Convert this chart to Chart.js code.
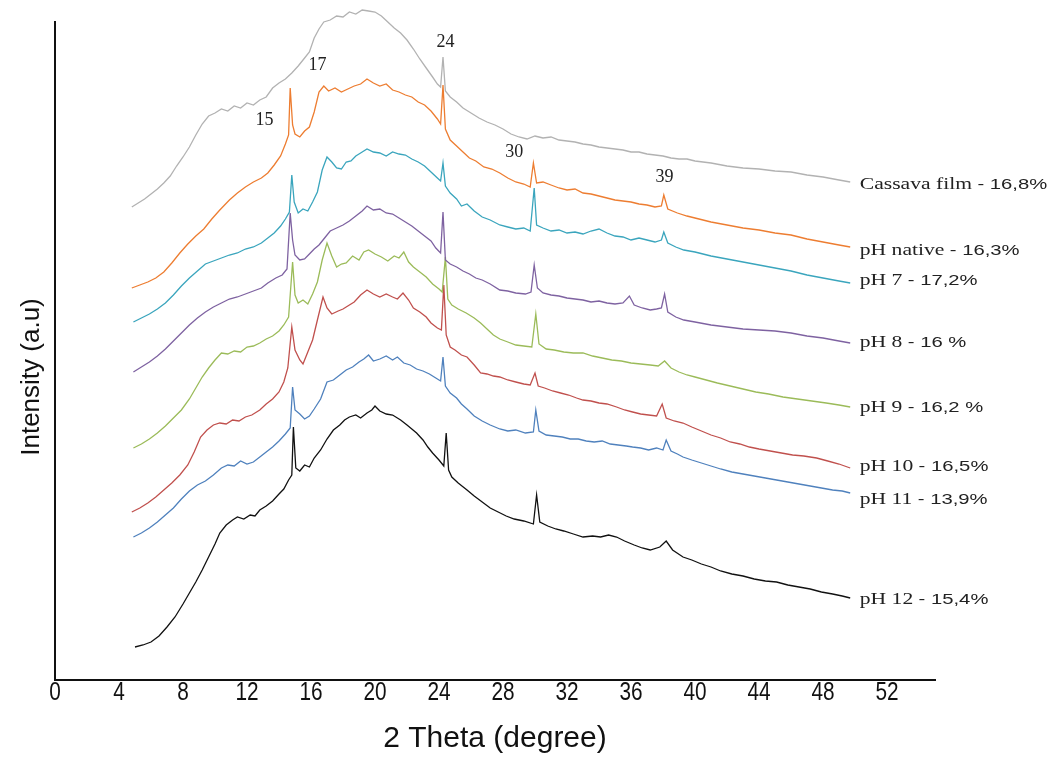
<!DOCTYPE html>
<html>
<head>
<meta charset="utf-8">
<title>XRD patterns</title>
<script src="https://cdn.jsdelivr.net/npm/chart.js@4.4.1/dist/chart.umd.min.js"></script>
<style>
  html, body { margin: 0; padding: 0; background: #fff; }
  #wrap { width: 1056px; height: 757px; }
</style>
</head>
<body>
<div id="wrap"><canvas id="xrd" width="1056" height="757"></canvas></div>
<script>
// 2 theta (deg) / intensity (arbitrary units, stacked offsets)
const cassavaFilm = [[4.8,473],[5.2,477],[5.6,481],[6.0,486],[6.4,491],[6.8,497],[7.2,504],[7.6,514],[8.0,523],[8.4,533],[8.8,545],[9.2,556],[9.6,564],[10.0,567],[10.4,571],[10.8,569],[11.2,574],[11.6,572],[12.0,577],[12.4,575],[12.8,580],[13.2,583],[13.6,592],[14.0,597],[14.4,601],[14.8,607],[15.2,614],[15.6,622],[15.9,628],[16.2,642],[16.5,651],[16.8,658],[17.2,660],[17.6,664],[18.0,663],[18.4,668],[18.8,666],[19.2,670],[19.6,669],[20.0,668],[20.4,664],[20.8,658],[21.2,652],[21.6,647],[22.0,640],[22.4,631],[22.8,621],[23.2,612],[23.6,603],[23.9,596],[24.1,593],[24.25,623],[24.4,589],[24.7,583],[25.1,578],[25.5,572],[26.0,567],[26.5,562],[27.0,558],[27.5,555],[28.0,551],[28.5,546],[29.0,543],[29.5,541],[30.0,544],[30.5,542],[31.0,543],[31.5,540],[32.0,539],[32.5,538],[33.0,536],[33.5,535],[34.0,533],[34.5,532],[35.0,531],[35.5,530],[36.0,528],[36.5,528],[37.0,526],[37.5,525],[38.0,524],[38.5,522],[39.0,521],[39.5,521],[40.0,519],[41.0,517],[42.0,514],[43.0,512],[44.0,511],[45.0,509],[46.0,508],[47.0,505],[48.0,503],[49.0,500],[49.7,498]];

const phNative = [[4.8,392],[5.3,395],[5.8,398],[6.3,402],[6.8,408],[7.3,417],[7.8,427],[8.3,436],[8.8,444],[9.3,451],[9.8,461],[10.3,470],[10.9,480],[11.4,487],[11.9,493],[12.4,498],[12.9,502],[13.3,507],[13.7,515],[14.1,524],[14.4,536],[14.6,545],[14.7,592],[14.85,555],[15.0,546],[15.3,543],[15.6,549],[15.9,553],[16.2,568],[16.5,588],[16.8,594],[17.1,589],[17.5,592],[17.9,588],[18.3,591],[18.7,594],[19.1,596],[19.5,601],[19.9,597],[20.3,594],[20.7,596],[21.1,590],[21.5,588],[21.9,585],[22.3,583],[22.7,578],[23.1,575],[23.5,569],[23.9,561],[24.1,556],[24.25,595],[24.4,551],[24.7,540],[25.1,534],[25.5,528],[25.9,522],[26.3,519],[26.8,513],[27.3,511],[27.8,507],[28.3,502],[28.8,498],[29.3,496],[29.7,493],[29.9,517],[30.1,497],[30.5,498],[31.0,495],[31.5,492],[32.0,490],[32.5,491],[33.0,487],[33.5,486],[34.0,484],[34.5,482],[35.0,480],[35.5,479],[36.0,478],[36.5,476],[37.0,475],[37.5,473],[37.9,474],[38.05,485],[38.3,471],[38.9,467],[39.5,464],[40.0,462],[41.0,458],[42.0,455],[43.0,452],[44.0,450],[45.0,447],[46.0,445],[47.0,441],[48.0,438],[49.0,435],[49.7,433]];

const ph7 = [[4.9,358],[5.4,362],[5.9,366],[6.4,371],[6.9,377],[7.4,385],[7.9,394],[8.4,402],[8.9,409],[9.4,416],[9.9,419],[10.4,422],[10.9,425],[11.4,427],[11.9,431],[12.4,433],[12.9,437],[13.3,442],[13.7,447],[14.1,454],[14.4,461],[14.65,468],[14.8,505],[14.95,478],[15.2,467],[15.5,471],[15.8,469],[16.1,478],[16.4,488],[16.7,510],[17.0,523],[17.3,518],[17.6,512],[17.9,511],[18.2,518],[18.5,519],[18.8,524],[19.1,527],[19.5,531],[19.9,528],[20.3,527],[20.7,524],[21.1,528],[21.5,526],[21.9,525],[22.3,521],[22.7,518],[23.1,514],[23.5,508],[23.9,502],[24.1,499],[24.25,517],[24.4,494],[24.7,487],[25.1,481],[25.4,474],[25.75,476],[26.2,469],[26.7,463],[27.2,460],[27.8,455],[28.3,453],[28.8,451],[29.3,452],[29.7,449],[29.95,492],[30.1,455],[30.5,452],[31.0,449],[31.5,450],[32.0,447],[32.5,448],[33.0,446],[33.5,449],[34.0,451],[34.5,447],[35.0,444],[35.5,443],[36.0,440],[36.5,442],[37.0,440],[37.5,438],[37.9,440],[38.05,448],[38.3,437],[38.8,433],[39.3,430],[40.0,428],[41.0,424],[42.0,421],[43.0,418],[44.0,415],[45.0,412],[46.0,409],[47.0,405],[48.0,402],[49.0,399],[49.7,397]];

const ph8 = [[4.9,308],[5.4,313],[5.9,318],[6.4,324],[6.9,331],[7.4,339],[7.9,347],[8.4,355],[8.9,362],[9.4,368],[9.9,373],[10.4,377],[10.9,381],[11.4,383],[11.9,386],[12.4,389],[12.9,392],[13.3,397],[13.8,402],[14.2,405],[14.5,411],[14.7,467],[14.85,440],[15.0,425],[15.3,420],[15.6,421],[15.9,426],[16.2,431],[16.5,435],[16.8,441],[17.2,449],[17.6,452],[18.0,455],[18.4,459],[18.8,464],[19.2,469],[19.5,474],[19.9,470],[20.3,471],[20.7,467],[21.1,466],[21.5,462],[21.9,458],[22.3,454],[22.7,449],[23.1,444],[23.5,439],[23.8,432],[24.1,427],[24.25,468],[24.4,420],[24.7,416],[25.1,413],[25.5,409],[25.9,406],[26.3,402],[26.7,400],[27.2,396],[27.8,390],[28.3,389],[28.8,387],[29.4,386],[29.75,388],[29.95,415],[30.15,392],[30.5,387],[31.0,385],[31.5,384],[32.0,382],[32.5,381],[33.0,380],[33.5,378],[34.0,379],[34.5,377],[35.0,376],[35.5,377],[35.9,384],[36.2,375],[36.7,372],[37.2,370],[37.6,371],[37.9,372],[38.1,386],[38.3,368],[38.8,363],[39.3,360],[40.0,358],[41.0,355],[42.0,353],[43.0,351],[44.0,350],[45.0,349],[46.0,347],[47.0,344],[48.0,342],[49.0,339],[49.7,337]];

const ph9 = [[4.9,232],[5.4,236],[5.9,241],[6.4,247],[6.9,254],[7.4,262],[7.9,270],[8.4,281],[8.8,292],[9.2,303],[9.6,312],[10.0,320],[10.4,327],[10.8,326],[11.2,329],[11.6,328],[12.0,333],[12.4,334],[12.8,337],[13.2,341],[13.6,344],[14.0,349],[14.3,355],[14.6,363],[14.85,418],[15.0,385],[15.2,377],[15.5,380],[15.8,376],[16.1,386],[16.4,398],[16.7,420],[17.0,437],[17.3,424],[17.6,413],[17.9,416],[18.2,417],[18.6,424],[19.0,420],[19.3,428],[19.6,430],[20.0,426],[20.4,423],[20.8,419],[21.2,424],[21.5,422],[21.8,428],[22.1,418],[22.4,413],[22.8,408],[23.2,403],[23.6,396],[24.0,391],[24.2,388],[24.4,423],[24.55,381],[24.8,375],[25.2,371],[25.7,367],[26.2,362],[26.6,357],[27.0,351],[27.4,345],[27.8,341],[28.3,338],[28.8,335],[29.3,334],[29.8,333],[30.05,366],[30.25,336],[30.7,331],[31.2,330],[31.8,328],[32.4,327],[33.0,327],[33.6,324],[34.2,322],[34.8,320],[35.4,319],[36.0,317],[36.6,316],[37.2,315],[37.7,314],[38.1,319],[38.5,312],[39.0,308],[39.5,305],[40.0,303],[40.7,300],[41.4,297],[42.2,294],[43.0,291],[43.8,288],[44.6,286],[45.5,283],[46.4,281],[47.3,279],[48.2,277],[49.0,275],[49.7,273]];

const ph10 = [[4.8,168],[5.3,172],[5.8,177],[6.3,183],[6.8,190],[7.3,197],[7.8,205],[8.3,215],[8.7,228],[9.1,243],[9.5,250],[9.9,255],[10.3,257],[10.7,256],[11.1,260],[11.5,259],[11.9,263],[12.3,265],[12.8,270],[13.2,276],[13.6,281],[14.0,288],[14.3,298],[14.55,312],[14.8,353],[15.0,330],[15.3,320],[15.5,316],[15.8,328],[16.1,340],[16.4,360],[16.75,383],[17.0,372],[17.3,366],[17.7,369],[18.0,371],[18.3,374],[18.7,378],[19.1,385],[19.5,390],[19.9,386],[20.3,383],[20.7,386],[21.1,383],[21.4,381],[21.75,387],[22.1,380],[22.4,372],[22.8,368],[23.2,363],[23.5,357],[23.9,352],[24.15,350],[24.3,395],[24.45,345],[24.7,333],[25.0,330],[25.4,325],[25.75,323],[26.2,315],[26.6,307],[27.0,306],[27.4,304],[27.8,303],[28.3,300],[28.8,298],[29.3,296],[29.7,295],[30.0,307],[30.2,294],[30.6,292],[31.1,289],[31.6,287],[32.1,285],[32.6,282],[33.0,280],[33.5,279],[34.0,277],[34.5,276],[35.1,273],[35.6,270],[36.1,268],[36.6,266],[37.1,265],[37.6,264],[37.95,276],[38.2,262],[38.7,259],[39.25,257],[39.8,253],[40.4,249],[41.0,245],[41.6,242],[42.2,238],[42.8,236],[43.4,233],[44.0,231],[44.7,229],[45.4,227],[46.1,225],[46.8,224],[47.6,222],[48.3,219],[49.0,216],[49.7,212]];

const ph11 = [[4.9,143],[5.4,147],[5.9,152],[6.4,158],[6.9,165],[7.4,172],[7.9,181],[8.4,189],[8.9,195],[9.4,199],[9.9,205],[10.4,212],[10.8,215],[11.2,214],[11.6,219],[12.0,216],[12.4,218],[12.8,223],[13.2,228],[13.6,233],[14.0,239],[14.4,246],[14.7,252],[14.85,293],[15.0,270],[15.3,266],[15.6,261],[15.9,264],[16.2,271],[16.6,281],[17.0,298],[17.4,300],[17.8,305],[18.2,310],[18.6,313],[19.0,318],[19.3,321],[19.6,325],[19.9,319],[20.3,321],[20.7,324],[21.1,320],[21.4,323],[21.8,317],[22.2,315],[22.6,311],[23.0,309],[23.4,306],[23.8,302],[24.1,299],[24.25,323],[24.4,294],[24.7,287],[25.1,282],[25.4,276],[25.75,271],[26.2,264],[26.7,259],[27.2,255],[27.8,251],[28.3,249],[28.8,250],[29.4,247],[29.9,248],[30.05,270],[30.25,249],[30.7,245],[31.2,244],[31.7,243],[32.2,241],[32.7,241],[33.2,239],[33.7,238],[34.2,239],[34.7,236],[35.2,235],[35.7,234],[36.1,233],[36.6,232],[37.1,230],[37.6,232],[38.0,230],[38.2,240],[38.5,229],[38.9,226],[39.25,223],[39.8,220],[40.4,217],[41.0,214],[41.6,211],[42.3,208],[43.0,206],[43.7,204],[44.4,202],[45.1,200],[45.8,198],[46.5,196],[47.2,194],[47.9,192],[48.6,190],[49.2,189],[49.7,187]];

const ph12 = [[5.0,33],[5.5,35],[6.0,38],[6.5,44],[7.0,53],[7.5,63],[8.0,76],[8.4,87],[8.8,98],[9.2,110],[9.6,123],[10.0,136],[10.3,147],[10.7,155],[11.1,160],[11.4,163],[11.8,161],[12.2,165],[12.5,164],[12.8,170],[13.2,174],[13.6,179],[14.0,186],[14.3,191],[14.6,200],[14.8,205],[14.9,253],[15.05,212],[15.3,209],[15.6,215],[15.9,213],[16.2,222],[16.6,230],[17.0,241],[17.4,250],[17.8,255],[18.1,260],[18.4,263],[18.8,265],[19.1,262],[19.5,267],[19.8,270],[20.0,274],[20.3,269],[20.7,266],[21.1,265],[21.6,260],[22.0,255],[22.3,251],[22.6,247],[23.0,240],[23.3,233],[23.6,227],[24.0,220],[24.3,214],[24.45,247],[24.6,210],[24.8,203],[25.2,197],[25.75,190],[26.2,184],[26.7,178],[27.2,172],[27.7,168],[28.2,164],[28.7,161],[29.3,159],[29.9,156],[30.1,185],[30.3,158],[30.8,154],[31.3,151],[31.8,149],[32.4,146],[33.0,143],[33.6,144],[34.1,143],[34.6,145],[35.1,143],[35.6,139],[36.2,135],[36.7,132],[37.2,130],[37.8,133],[38.2,139],[38.6,130],[39.25,123],[39.8,120],[40.4,116],[41.0,113],[41.6,109],[42.3,106],[43.0,104],[43.7,101],[44.4,99],[45.1,98],[45.8,95],[46.5,93],[47.2,91],[47.9,88],[48.6,86],[49.2,84],[49.7,82]];

const seriesNames = ['Cassava film', 'pH native', 'pH 7', 'pH 8', 'pH 9', 'pH 10', 'pH 11', 'pH 12'];
const crystallinity = ['- 16,8%', '- 16,3%', '- 17,2%', '- 16 %', '- 16,2 %', '- 16,5%', '- 13,9%', '- 15,4%'];
const seriesData = [cassavaFilm, phNative, ph7, ph8, ph9, ph10, ph11, ph12];
const seriesColors = ['#b2b2b2', '#ed7d31', '#3aa5bd', '#7e62a1', '#9bbb59', '#c0504d', '#4f81bd', '#111111'];

// peak annotations: [text, 2theta, intensity]
const peakLabels = [['15', 13.1, 560], ['17', 16.4, 615], ['24', 24.4, 638], ['30', 28.7, 528], ['39', 38.1, 503]];
// where the series name sits at the right end of each trace
const nameLabelY = [495, 429, 399, 337, 272, 213, 180, 80];

const xTicksStep = 4;
const yAxisTop = 658;

const annotate = {
  id: 'annotate',
  afterDraw(chart) {
    const { ctx, scales: { x, y } } = chart;
    ctx.save();
    ctx.fillStyle = '#222';
    ctx.textBaseline = 'middle';
    ctx.textAlign = 'center';
    ctx.font = '18px "Liberation Serif", "Times New Roman", serif';
    peakLabels.forEach(([t, px, py]) => ctx.fillText(t, x.getPixelForValue(px), y.getPixelForValue(py)));

    // series names, drawn a bit wide like the source figure
    ctx.textAlign = 'left';
    const left = x.getPixelForValue(50.3);
    seriesNames.forEach((name, i) => {
      const cy = y.getPixelForValue(nameLabelY[i]);
      ctx.save();
      ctx.translate(left, cy);
      ctx.scale(1.35, 1);
      ctx.font = '16px "Liberation Serif", "Times New Roman", serif';
      ctx.fillText(name, 0, 0);
      const w = ctx.measureText(name + ' ').width;
      ctx.font = '15px "Liberation Sans", Arial, sans-serif';
      ctx.fillText(crystallinity[i], w, 0);
      ctx.restore();
    });

    // x tick labels, condensed
    ctx.fillStyle = '#111';
    ctx.textAlign = 'center';
    ctx.font = '26px "Liberation Sans", Arial, sans-serif';
    x.ticks.forEach(t => {
      ctx.save();
      ctx.translate(x.getPixelForValue(t.value), 693);
      ctx.scale(0.8, 1);
      ctx.fillText(t.label, 0, 0);
      ctx.restore();
    });

    // y axis title
    ctx.save();
    ctx.translate(32, 377);
    ctx.rotate(-Math.PI / 2);
    ctx.font = '26px "Liberation Sans", Arial, sans-serif';
    ctx.fillText('Intensity (a.u)', 0, 0);
    ctx.restore();
    ctx.restore();
  }
};

new Chart(document.getElementById('xrd'), {
  type: 'line',
  data: {
    datasets: seriesData.map((d, i) => ({
      label: seriesNames[i],
      data: d,
      borderColor: seriesColors[i],
      borderWidth: 1.3,
      pointRadius: 0,
      tension: 0,
      fill: false,
      clip: false
    }))
  },
  options: {
    responsive: false,
    animation: false,
    events: [],
    layout: { padding: { left: 0, top: 22, right: 121, bottom: 0 } },
    plugins: { legend: { display: false }, tooltip: { enabled: false } },
    scales: {
      x: {
        type: 'linear',
        min: 0,
        max: 55,
        afterFit(scale) { scale.height = 77; },
        ticks: {
          stepSize: xTicksStep,
          includeBounds: false,
          color: 'rgba(0,0,0,0)',
          font: { size: 18 }
        },
        grid: { drawOnChartArea: false, drawTicks: false },
        border: { color: '#111', width: 2 },
        title: {
          display: true,
          text: '2 Theta (degree)',
          color: '#111',
          padding: { top: 0, bottom: 0 },
          font: { family: '"Liberation Sans", Arial', size: 30 }
        }
      },
      y: {
        type: 'linear',
        min: 0,
        max: yAxisTop,
        afterFit(scale) { scale.width = 55; },
        ticks: { display: false },
        grid: { display: false },
        border: { color: '#111', width: 2 }
      }
    }
  },
  plugins: [annotate]
});
</script>
</body>
</html>
